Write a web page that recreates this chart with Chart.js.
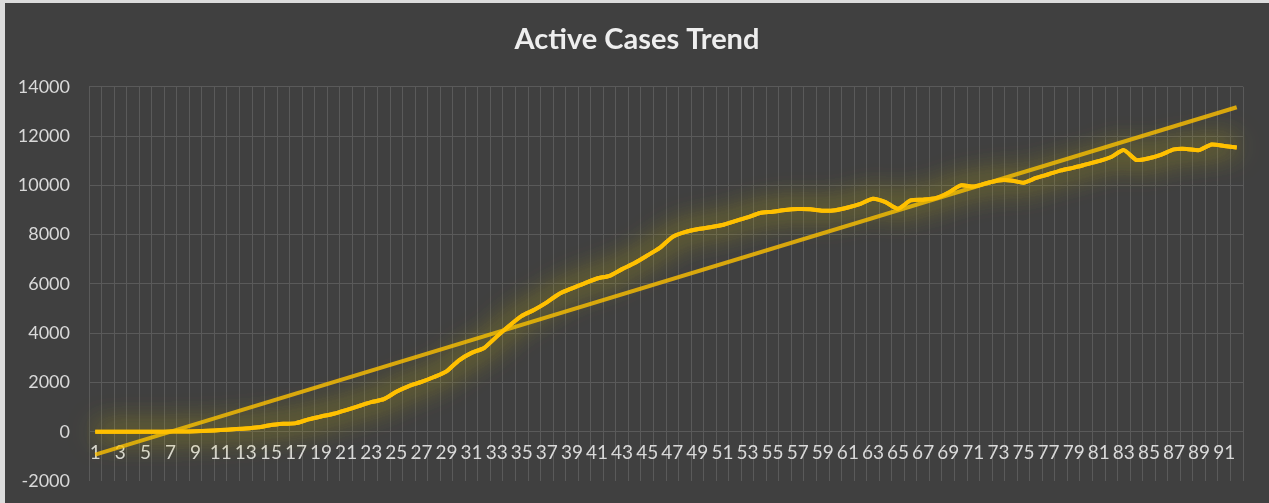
<!DOCTYPE html>
<html>
<head>
<meta charset="utf-8">
<title>Active Cases Trend</title>
<script src="https://cdn.jsdelivr.net/npm/chart.js@4.4.1/dist/chart.umd.min.js"></script>
<style>
  body { margin: 0; background: #dcdcdc; }
  .chart-box { position: absolute; left: 5px; top: 3px; width: 1264px; height: 500px; background: #404040; }
</style>
</head>
<body>
<div class="chart-box"><canvas id="trendChart"></canvas></div>
<script>
// day numbers on the category axis
const days = [1,2,3,4,5,6,7,8,9,10,11,12,13,14,15,16,17,18,19,20,
  21,22,23,24,25,26,27,28,29,30,31,32,33,34,35,36,37,38,39,40,
  41,42,43,44,45,46,47,48,49,50,51,52,53,54,55,56,57,58,59,60,
  61,62,63,64,65,66,67,68,69,70,71,72,73,74,75,76,77,78,79,80,
  81,82,83,84,85,86,87,88,89,90,91,92];

// active cases
const activeCases = [0,0,0,0,2,3,5,8,20,40,70,100,130,180,270,320,350,500,620,730,
  880,1040,1200,1320,1620,1850,2020,2220,2450,2900,3200,3400,3860,4300,4700,4950,5250,5600,5820,6020,
  6220,6330,6600,6850,7150,7460,7900,8100,8220,8300,8390,8550,8700,8880,8930,9000,9040,9030,8970,8990,
  9100,9250,9460,9320,9050,9390,9420,9480,9700,10000,9950,10080,10200,10200,10110,10300,10450,10610,10720,10850,
  10980,11150,11430,11030,11100,11250,11460,11480,11430,11660,11600,11540];

// linear trendline end points
const trendStart = -930;
const trendEnd = 13170;

const yTicks = [-2000, 0, 2000, 4000, 6000, 8000, 10000, 12000, 14000];

const trendData = days.map((d, i) => i === 0 ? trendStart : (i === days.length - 1 ? trendEnd : null));

// glow round the main line (drawn one extra time to make it stronger)
const glow = {
  id: 'glow',
  beforeDatasetDraw(chart, args) {
    if (args.index !== 0) return;
    const c = chart.ctx;
    c.save();
    c.shadowColor = 'rgba(220,200,0,0.8)';
    c.shadowBlur = 30;
    args.meta.controller.draw();
  },
  afterDatasetDraw(chart, args) {
    if (args.index !== 0) return;
    chart.ctx.restore();
  }
};

new Chart(document.getElementById('trendChart'), {
  type: 'line',
  data: {
    labels: days,
    datasets: [
      {
        label: 'Active Cases',
        data: activeCases,
        borderColor: '#FFC000',
        borderWidth: 4,
        pointRadius: 0,
        tension: 0.2,
        fill: false
      },
      {
        label: 'Linear (Active Cases)',
        data: trendData,
        borderColor: 'rgba(255,192,0,0.8)',
        borderWidth: 4,
        pointRadius: 0,
        spanGaps: true,
        fill: false
      }
    ]
  },
  plugins: [glow],
  options: {
    responsive: true,
    maintainAspectRatio: false,
    animation: false,
    layout: { padding: { left: 0, right: 0, bottom: 22 } },
    plugins: {
      legend: { display: false },
      tooltip: { enabled: false },
      title: {
        display: true,
        text: 'Active Cases Trend',
        color: '#eeeeee',
        font: { family: 'Lato', size: 29, weight: 'bold' },
        padding: { top: 19, bottom: 30 }
      }
    },
    scales: {
      x: {
        type: 'category',
        position: { y: 0 },
        offset: true,
        afterFit: (scale) => { scale.height = 0; },
        grid: { color: '#5a5a5a', offset: true, drawTicks: false },
        border: { display: false },
        ticks: {
          autoSkip: false,
          maxRotation: 0,
          padding: 10,
          color: '#d9d9d9',
          font: { family: 'Lato', size: 19 },
          callback: (v, i) => i % 2 === 0 ? days[i] : ''
        }
      },
      y: {
        min: yTicks[0],
        max: yTicks[yTicks.length - 1],
        afterBuildTicks: (scale) => { scale.ticks = yTicks.map(v => ({ value: v })); },
        afterFit: (scale) => {
          scale.width = 84;
          scale.paddingTop = 11;
          scale.paddingBottom = 11;
        },
        grid: {
          drawTicks: false,
          color: (ctx) => ctx.tick && ctx.tick.value === -2000 ? 'transparent' : '#5a5a5a'
        },
        border: { display: false },
        ticks: {
          padding: 19,
          color: '#d9d9d9',
          font: { family: 'Lato', size: 18 },
          callback: (v) => String(v)
        }
      },
      // empty right-hand spacer so the plot ends where the original does
      yRight: {
        position: 'right',
        min: yTicks[0],
        max: yTicks[yTicks.length - 1],
        afterFit: (scale) => { scale.width = 26; },
        grid: { display: false },
        border: { display: false },
        ticks: { display: false }
      }
    }
  }
});
</script>
</body>
</html>
